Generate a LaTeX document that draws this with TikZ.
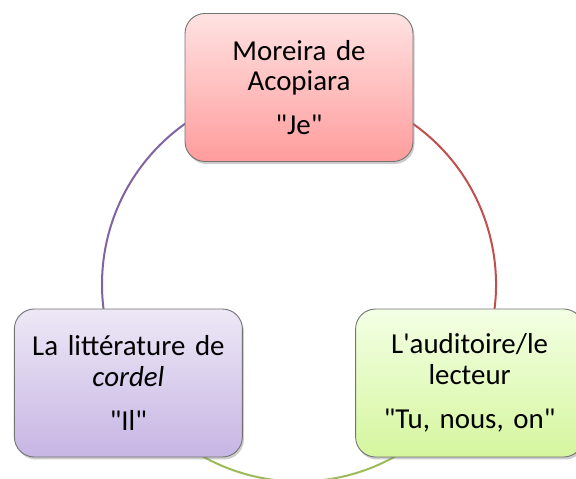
\documentclass[tikz,border=0pt]{standalone}
\usepackage{fontspec}
\setmainfont{Carlito}[Ligatures=TeXOff]
\usepackage{xcolor}
\usepackage{tikz}
\usetikzlibrary{positioning, calc, shadows, backgrounds}
\definecolor{CycleRed}{RGB}{192,80,77}
\definecolor{CyclePurple}{RGB}{128,100,162}
\definecolor{CycleGreen}{RGB}{155,187,89}
\definecolor{RedTop}{RGB}{255,226,226}
\definecolor{RedBottom}{RGB}{255,156,156}
\definecolor{PurpleTop}{RGB}{237,232,246}
\definecolor{PurpleBottom}{RGB}{199,181,228}
\definecolor{GreenTop}{RGB}{243,255,228}
\definecolor{GreenBottom}{RGB}{213,246,158}
\tikzset{
    cyclenode/.style={
        draw=black!55, line width=0.9bp, rounded corners=20bp,
        minimum width=228bp, minimum height=148bp, text width=212bp,
        align=center, inner sep=0pt, font=\fontsize{29}{31}\selectfont,
        drop shadow={shadow xshift=1.5bp, shadow yshift=-2.5bp, opacity=0.4}
    },
    arcline/.style={
        line width=2bp
    }
}

\begin{document}
\begin{tikzpicture}[x=1bp, y=1bp]
    \useasboundingbox (0,0) rectangle (576,479);
    \coordinate (ctr) at (299,194.5);
    \node[cyclenode, top color=RedTop, bottom color=RedBottom] (moreira) at ($(ctr)+(90:197)$) {Moreira de\\Acopiara\\[13bp]"Je"};
    \node[cyclenode, top color=PurpleTop, bottom color=PurpleBottom] (cordel) at ($(ctr)+(210:197)$) {La littérature de\\\textit{cordel}\\[13bp]"Il"};
    \node[cyclenode, top color=GreenTop, bottom color=GreenBottom] (lecteur) at ($(ctr)+(330:197)$) {L'auditoire/le\\lecteur\\[13bp]"Tu, nous, on"};
    \begin{scope}[on background layer]
        \draw[arcline, CyclePurple] (moreira.center) arc[start angle=90, end angle=210, radius=197bp];
        \draw[arcline, CycleGreen] (cordel.center) arc[start angle=210, end angle=330, radius=197bp];
        \draw[arcline, CycleRed] (lecteur.center) arc[start angle=330, end angle=450, radius=197bp];
    \end{scope}
\end{tikzpicture}
\end{document}
